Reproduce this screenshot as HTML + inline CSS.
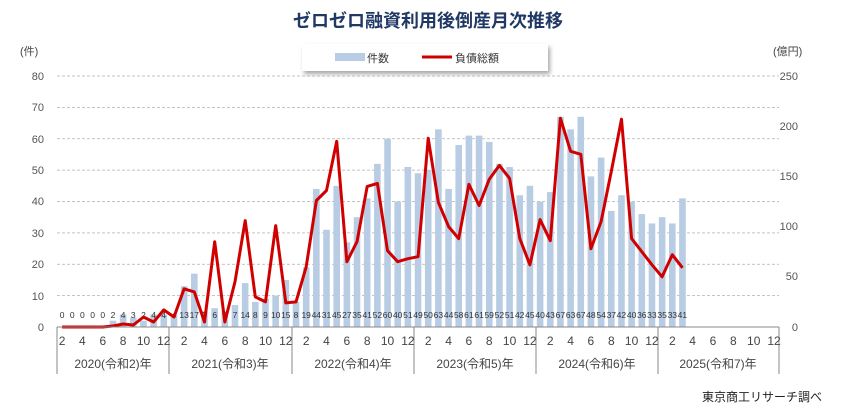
<!DOCTYPE html>
<html><head><meta charset="utf-8"><style>
body{margin:0;background:#fff}
svg{display:block;font-family:"Liberation Sans","Noto Sans CJK JP",sans-serif}
</style></head><body>
<svg id="s" width="843" height="416" viewBox="0 0 843 416">
<text x="428" y="27" text-anchor="middle" font-size="18" font-weight="bold" fill="#1f3864">ゼロゼロ融資利用後倒産月次推移</text>
<text x="20" y="55" font-size="11" fill="#444">(件)</text>
<text x="773" y="55" font-size="11" fill="#444">(億円)</text>
<rect x="302" y="44" width="246" height="27" fill="#fff" style="filter:drop-shadow(2px 3px 2px rgba(0,0,0,0.35))"/>
<rect x="335" y="53" width="30" height="8" fill="#b8cce4"/>
<text x="367" y="62" font-size="11" fill="#333">件数</text>
<rect x="422" y="55.5" width="30" height="3" fill="#d00000"/>
<text x="455" y="62" font-size="11" fill="#333">負債総額</text>
<g id="grid" stroke="#b0b0b0" stroke-dasharray="3,2" stroke-width="0.8"></g>
<g font-size="11" fill="#555" text-anchor="end">
<text x="44" y="80">80</text><text x="44" y="111">70</text><text x="44" y="143">60</text><text x="44" y="174">50</text><text x="44" y="205">40</text><text x="44" y="237">30</text><text x="44" y="268">20</text><text x="44" y="300">10</text><text x="44" y="331">0</text>
</g>
<g font-size="11" fill="#555" text-anchor="end">
<text x="798" y="80">250</text><text x="798" y="130">200</text><text x="798" y="180">150</text><text x="798" y="230">100</text><text x="798" y="280">50</text><text x="798" y="331">0</text>
</g>
<g id="bars" fill="#b8cce4"></g>
<g font-size="8.5" fill="#333" text-anchor="middle">
<text x="62.1" y="318">0</text><text x="72.3" y="318">0</text><text x="82.4" y="318">0</text><text x="92.6" y="318">0</text><text x="102.8" y="318">0</text><text x="113" y="318">2</text><text x="123.1" y="318">4</text><text x="133.3" y="318">3</text><text x="143.5" y="318">2</text><text x="153.6" y="318">4</text><text x="163.8" y="318">4</text>
<text x="174" y="318">4</text><text x="184.1" y="318">13</text><text x="194.3" y="318">17</text><text x="204.5" y="318">5</text><text x="214.7" y="318">6</text><text x="224.8" y="318">5</text><text x="235" y="318">7</text><text x="245.2" y="318">14</text><text x="255.3" y="318">8</text><text x="265.5" y="318">9</text><text x="275.7" y="318">10</text><text x="285.8" y="318">15</text>
<text x="296" y="318">8</text><text x="306.2" y="318">19</text><text x="316.3" y="318">44</text><text x="326.5" y="318">31</text><text x="336.7" y="318">45</text><text x="346.9" y="318">27</text><text x="357" y="318">35</text><text x="367.2" y="318">41</text><text x="377.4" y="318">52</text><text x="387.5" y="318">60</text><text x="397.7" y="318">40</text><text x="407.9" y="318">51</text>
<text x="418" y="318">49</text><text x="428.2" y="318">50</text><text x="438.4" y="318">63</text><text x="448.6" y="318">44</text><text x="458.7" y="318">58</text><text x="468.9" y="318">61</text><text x="479.1" y="318">61</text><text x="489.2" y="318">59</text><text x="499.4" y="318">52</text><text x="509.6" y="318">51</text><text x="519.7" y="318">42</text><text x="529.9" y="318">45</text>
<text x="540.1" y="318">40</text><text x="550.2" y="318">43</text><text x="560.4" y="318">67</text><text x="570.6" y="318">63</text><text x="580.8" y="318">67</text><text x="590.9" y="318">48</text><text x="601.1" y="318">54</text><text x="611.3" y="318">37</text><text x="621.4" y="318">42</text><text x="631.6" y="318">40</text><text x="641.8" y="318">36</text><text x="651.9" y="318">33</text>
<text x="662.1" y="318">35</text><text x="672.3" y="318">33</text><text x="682.4" y="318">41</text>
</g>
<polyline id="line" fill="none" stroke="#d00000" stroke-width="3" stroke-linejoin="round"/>
<g stroke="#888" stroke-width="1">
<line x1="57" y1="327" x2="779" y2="327"/>
<line x1="57" y1="327" x2="57" y2="374"/><line x1="169" y1="327" x2="169" y2="374"/><line x1="292" y1="327" x2="292" y2="374"/><line x1="414" y1="327" x2="414" y2="374"/><line x1="536" y1="327" x2="536" y2="374"/><line x1="658" y1="327" x2="658" y2="374"/><line x1="779" y1="327" x2="779" y2="374"/>
</g>
<g font-size="12" fill="#444" text-anchor="middle">
<text x="62.1" y="345">2</text><text x="82.4" y="345">4</text><text x="102.8" y="345">6</text><text x="123.1" y="345">8</text><text x="143.5" y="345">10</text><text x="163.8" y="345">12</text>
<text x="184.1" y="345">2</text><text x="204.5" y="345">4</text><text x="224.8" y="345">6</text><text x="245.2" y="345">8</text><text x="265.5" y="345">10</text><text x="285.8" y="345">12</text>
<text x="306.2" y="345">2</text><text x="326.5" y="345">4</text><text x="346.9" y="345">6</text><text x="367.2" y="345">8</text><text x="387.5" y="345">10</text><text x="407.9" y="345">12</text>
<text x="428.2" y="345">2</text><text x="448.6" y="345">4</text><text x="468.9" y="345">6</text><text x="489.2" y="345">8</text><text x="509.6" y="345">10</text><text x="529.9" y="345">12</text>
<text x="550.2" y="345">2</text><text x="570.6" y="345">4</text><text x="590.9" y="345">6</text><text x="611.3" y="345">8</text><text x="631.6" y="345">10</text><text x="651.9" y="345">12</text>
<text x="672.3" y="345">2</text><text x="692.6" y="345">4</text><text x="713" y="345">6</text><text x="733.3" y="345">8</text><text x="753.7" y="345">10</text><text x="774" y="345">12</text>
<text x="113" y="368">2020(令和2)年</text><text x="230" y="368">2021(令和3)年</text><text x="353" y="368">2022(令和4)年</text><text x="475" y="368">2023(令和5)年</text><text x="597" y="368">2024(令和6)年</text><text x="718" y="368">2025(令和7)年</text>
</g>
<text x="822" y="401" font-size="12" fill="#222" text-anchor="end">東京商工リサーチ調べ</text>
</svg>
<script>
var ns="http://www.w3.org/2000/svg";
var g=document.getElementById("grid");
for(var k=1;k<=8;k++){var y=327-k*31.375;var l=document.createElementNS(ns,"line");l.setAttribute("x1",57);l.setAttribute("x2",779);l.setAttribute("y1",y);l.setAttribute("y2",y);g.appendChild(l);}
var c=[0,0,0,0,0,2,4,3,2,4,4,4,13,17,5,6,5,7,14,8,9,10,15,8,19,44,31,45,27,35,41,52,60,40,51,49,50,63,44,58,61,61,59,52,51,42,45,40,43,67,63,67,48,54,37,42,40,36,33,35,33,41];
var b=document.getElementById("bars");
for(var i=0;i<c.length;i++){if(!c[i])continue;var x=62.1+10.17*i;var h=c[i]*3.1375;var r=document.createElementNS(ns,"rect");r.setAttribute("x",x-3.3);r.setAttribute("width",6.6);r.setAttribute("y",327-h);r.setAttribute("height",h);b.appendChild(r);}
var v=[0,0,0,0,0,1,3,2,10,5,17,10,38,35,5,85,5,45,106,30,25,101,24,25,60,126,136,185,65,85,140,143,76,65,68,70,188,124,100,88,142,121,147,161,148,88,62,107,86,208,175,172,78,105,155,207,88,75,62,50,72,59];
var p=[];for(var i=0;i<v.length;i++){p.push((62.1+10.17*i).toFixed(1)+","+(327-v[i]*1.004).toFixed(1));}
document.getElementById("line").setAttribute("points",p.join(" "));
</script>
</body></html>
